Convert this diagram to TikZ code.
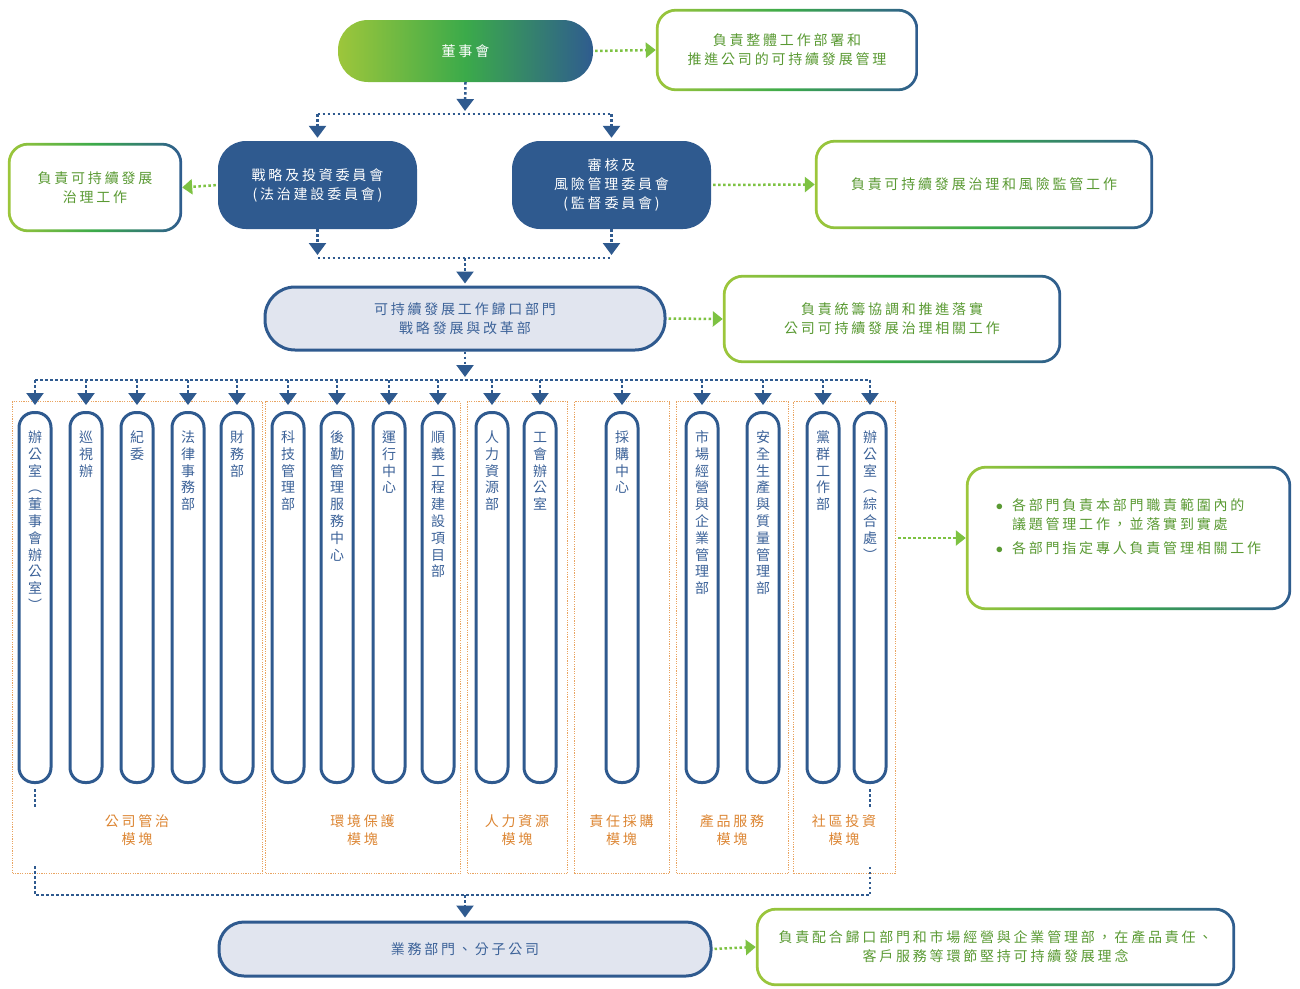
\documentclass[tikz,border=0pt]{standalone}
\usepackage{fontspec}
\setmainfont{Noto Sans CJK TC}[LetterSpace=20]
\usepackage{tikz}
\usetikzlibrary{arrows.meta,positioning,backgrounds}

\definecolor{navy}{HTML}{2F5A8F}
\definecolor{pilltxt}{HTML}{3D6399}
\definecolor{paleblue}{HTML}{E1E5EF}
\definecolor{leafgreen}{HTML}{9DC63B}
\definecolor{midgreen}{HTML}{3BAA4A}
\definecolor{steelblue}{HTML}{2F5C8F}
\definecolor{notegreen}{HTML}{5A9A33}
\definecolor{arrowgreen}{HTML}{7DC242}
\definecolor{modorange}{HTML}{E9A461}
\definecolor{modtxt}{HTML}{DC8532}

\tikzset{
  txt/.style={font=\fontsize{14}{19}\selectfont},
  board/.style={txt, text=white, minimum width=255pt, minimum height=62pt, rounded corners=30pt,
    left color=leafgreen, right color=steelblue, middle color=midgreen},
  cttee/.style={txt, text=white, fill=navy, minimum width=199pt, minimum height=88pt, rounded corners=28pt, align=center},
  hub/.style={txt, text=pilltxt, fill=paleblue, draw=navy, line width=3pt, align=center},
  dutynote/.style={txt, text=notegreen, align=center, inner sep=0pt},
  pill/.style={font=\fontsize{14}{16.8}\selectfont, text=pilltxt, draw=navy, line width=3pt, fill=white,
    rounded corners=15pt, minimum width=32pt, text width=18pt, align=center, anchor=north,
    inner xsep=0pt, inner ysep=18pt, text height=12pt, text depth=322pt},
  modbox/.style={draw=modorange, line width=1.2pt, dash pattern=on 1.2pt off 1.2pt, minimum height=472pt, anchor=north west},
  modname/.style={txt, text=modtxt, align=center, font=\fontsize{14}{18}\selectfont},
  linkline/.style={draw=navy, line width=2.5pt, dash pattern=on 2.5pt off 2.5pt},
  droparrow/.style={linkline, -{Triangle[width=17pt,length=12pt]}},
  sidearrow/.style={draw=arrowgreen, line width=2.5pt, dash pattern=on 2.5pt off 2.5pt, -{Triangle[width=15pt,length=10pt]}},
}

% gradient frame behind a note node
\newcommand\gradframe[1]{%
  \begin{scope}[on background layer]
    \shade[left color=leafgreen, right color=steelblue, middle color=midgreen, rounded corners=20pt]
      (#1.south west) rectangle (#1.north east);
    \fill[white, rounded corners=17.5pt]
      ([shift={(2.8pt,2.8pt)}]#1.south west) rectangle ([shift={(-2.8pt,-2.8pt)}]#1.north east);
  \end{scope}}

\begin{document}
\begin{tikzpicture}[x=1pt,y=-1pt]
\useasboundingbox (0,0) rectangle (1300,988);

%Module boxes
\node[modbox, minimum width=250pt] (modA) at (12,401) {};
\node[modbox, minimum width=195pt] (modB) at (265,401) {};
\node[modbox, minimum width=100pt] (modC) at (467,401) {};
\node[modbox, minimum width=95pt] (modD) at (574,401) {};
\node[modbox, minimum width=112pt] (modE) at (676,401) {};
\node[modbox, minimum width=102pt] (modF) at (793,401) {};

% Text Node
\node[modname] (modAname) at (137,830) {公司管治\\模塊};
\node[modname] (modBname) at (362.5,830) {環境保護\\模塊};
\node[modname] (modCname) at (517,830) {人力資源\\模塊};
\node[modname] (modDname) at (621.5,830) {責任採購\\模塊};
\node[modname] (modEname) at (732,830) {產品服務\\模塊};
\node[modname] (modFname) at (844,830) {社區投資\\模塊};

%Flowchart: Terminator
\node[board] (board) at (465.5,51) {董事會};
%Flowchart: Alternate Process
\node[cttee] (cLeft) at (317.5,185) {戰略及投資委員會\\(法治建設委員會)};
\node[cttee] (cRight) at (611.5,185) {審核及\\風險管理委員會\\(監督委員會)};
\node[hub, minimum width=400pt, minimum height=63pt, rounded corners=30pt] (hub) at (465,318.5)
  {可持續發展工作歸口部門\\戰略發展與改革部};
\node[hub, minimum width=492pt, minimum height=54pt, rounded corners=25pt] (biz) at (465,949)
  {業務部門、分子公司};

%Notes
\node[dutynote, minimum width=262pt, minimum height=82pt] (dutyA) at (787,50)
  {負責整體工作部署和\\推進公司的可持續發展管理};
\node[dutynote, minimum width=174pt, minimum height=89pt] (dutyB) at (95,187.5)
  {負責可持續發展\\治理工作};
\node[dutynote, minimum width=338pt, minimum height=89pt] (dutyC) at (984,184.5)
  {負責可持續發展治理和風險監管工作};
\node[dutynote, minimum width=338pt, minimum height=88pt] (dutyD) at (892,319)
  {負責統籌協調和推進落實\\公司可持續發展治理相關工作};
\node[dutynote, minimum width=325pt, minimum height=144pt] (dutyE) at (1128.5,538)
  {\begin{tabular}{@{}l@{\hspace{9pt}}l@{}}
   $\bullet$&各部門負責本部門職責範圍內的\\
    &議題管理工作，並落實到實處\\[5pt]
   $\bullet$&各部門指定專人負責管理相關工作\\
    &
   \end{tabular}};
\node[dutynote, minimum width=479pt, minimum height=78pt] (dutyF) at (995.5,947)
  {負責配合歸口部門和市場經營與企業管理部，在產品責任、\\客戶服務等環節堅持可持續發展理念};
\gradframe{dutyA}
\gradframe{dutyB}
\gradframe{dutyC}
\gradframe{dutyD}
\gradframe{dutyE}
\gradframe{dutyF}

%Departments
\node[pill] (d1) at (35,411) {辦\\公\\室\\︵\\董\\事\\會\\辦\\公\\室\\︶};
\node[pill] (d2) at (86,411) {巡\\視\\辦};
\node[pill] (d3) at (137,411) {紀\\委};
\node[pill] (d4) at (188,411) {法\\律\\事\\務\\部};
\node[pill] (d5) at (237,411) {財\\務\\部};
\node[pill] (d6) at (288,411) {科\\技\\管\\理\\部};
\node[pill] (d7) at (337,411) {後\\勤\\管\\理\\服\\務\\中\\心};
\node[pill] (d8) at (389,411) {運\\行\\中\\心};
\node[pill] (d9) at (438,411) {順\\義\\工\\程\\建\\設\\項\\目\\部};
\node[pill] (d10) at (492,411) {人\\力\\資\\源\\部};
\node[pill] (d11) at (540,411) {工\\會\\辦\\公\\室};
\node[pill] (d12) at (622,411) {採\\購\\中\\心};
\node[pill] (d13) at (702,411) {市\\場\\經\\營\\與\\企\\業\\管\\理\\部};
\node[pill] (d14) at (763,411) {安\\全\\生\\產\\與\\質\\量\\管\\理\\部};
\node[pill] (d15) at (823,411) {黨\\群\\工\\作\\部};
\node[pill] (d16) at (870,411) {辦\\公\\室\\︵\\綜\\合\\處\\︶};

%Connectors
\coordinate (splitA) at (465,114);
\coordinate (splitB) at (465,258);
\coordinate (splitC) at (465,380);
\coordinate (splitD) at (465,895);
\coordinate (gapD) at (0,866);

\draw[droparrow] (board.south) -- ([yshift=3pt]splitA);
\draw[linkline] (cLeft.north |- splitA) -- (cRight.north |- splitA);
\draw[droparrow, shorten >=3pt] (cLeft.north |- splitA) -- (cLeft.north);
\draw[droparrow, shorten >=3pt] (cRight.north |- splitA) -- (cRight.north);

\draw[droparrow, shorten >=3pt] (cLeft.south) -- (cLeft.south |- splitB);
\draw[droparrow, shorten >=3pt] (cRight.south) -- (cRight.south |- splitB);
\draw[linkline] (cLeft.south |- splitB) -- (cRight.south |- splitB);
\draw[droparrow, shorten >=2pt] (splitB) -- (hub.north);

\draw[droparrow, shorten >=3pt] (hub.south) -- (splitC);
\draw[linkline] (d1.north |- splitC) -- (d16.north |- splitC);
\foreach \i in {1,...,16}
  \draw[droparrow, shorten >=6pt] (d\i.north |- splitC) -- (d\i.north);

\draw[linkline] ([yshift=-5pt]d1.south) -- ([yshift=-24pt]d1.south);
\draw[linkline] ([yshift=-5pt]d16.south) -- ([yshift=-24pt]d16.south);
\draw[linkline] (d1.south |- gapD) -- (d1.south |- splitD) -- (d16.south |- splitD) -- (d16.south |- gapD);
\draw[droparrow, shorten >=3pt] (splitD) -- (biz.north);

\draw[sidearrow, shorten <=2pt] (board.east) -- (dutyA.west);
\draw[sidearrow, shorten <=2pt] (cLeft.west) -- (dutyB.east);
\draw[sidearrow, shorten <=2pt] (cRight.east) -- (dutyC.west);
\draw[sidearrow, shorten <=2pt] (hub.east) -- (dutyD.west);
\draw[sidearrow, shorten <=2pt] (modF.east |- dutyE.west) -- (dutyE.west);
\draw[sidearrow, shorten <=2pt] (biz.east) -- (dutyF.west);

\end{tikzpicture}
\end{document}
